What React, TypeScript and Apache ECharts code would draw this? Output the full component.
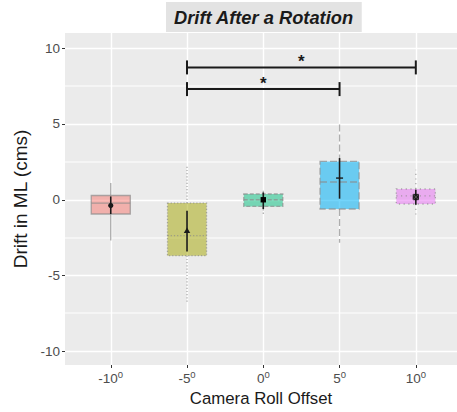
import React, { useEffect, useRef } from 'react';
import * as echarts from 'echarts';

// ---- data ----
const categories = ['-10', '-5', '0', '5', '10'];
const xPositions = [-10, -5, 0, 5, 10];
const boxMin = [-2.68, -6.86, -0.94, -2.84, -1.21];
const boxQ1 = [-0.94, -3.69, -0.44, -0.61, -0.28];
const boxMedian = [-0.22, -2.37, 0.0, 1.17, 0.26];
const boxQ3 = [0.28, -0.22, 0.38, 2.53, 0.71];
const boxMax = [1.1, 2.31, 0.59, 5.17, 1.98];
const meanValues = [-0.38, -2.04, 0.0, 1.43, 0.18];
const errLow = [-0.94, -3.41, -0.61, 0.07, -0.33];
const errHigh = [0.22, -0.73, 0.48, 2.75, 0.66];
const sigFrom = [-5, -5];
const sigTo = [5, 10];
const sigY = [7.3, 8.73];
const sigLabels = ['*', '*'];
const yTicks = [-10, -5, 0, 5, 10];
const yMinorTicks = [-7.5, -2.5, 2.5, 7.5];

// ---- styles ----
const FONT = '"Liberation Sans", Arial, Helvetica, sans-serif';
const fills = [
  'rgba(248,118,109,0.5)',
  'rgba(163,165,0,0.5)',
  'rgba(0,191,125,0.5)',
  'rgba(0,176,246,0.55)',
  'rgba(231,107,243,0.5)',
];
const dashes: (number[] | null)[] = [null, [1.2, 2], [4, 2], [7, 3], [1.2, 3.5]];
const BORDER = 'rgba(140,140,140,0.7)';
const BOX_W = 2.56; // in x units
const INK = '#1a1a1a';

export default function App() {
  const ref = useRef<HTMLDivElement>(null);
  useEffect(() => {
    if (!ref.current) return;
    const chart = echarts.init(ref.current, null, { renderer: 'svg' });

    const boxData = xPositions.map((x, i) => [x, boxMin[i], boxQ1[i], boxMedian[i], boxQ3[i], boxMax[i]]);
    const meanData = xPositions.map((x, i) => [x, errLow[i], errHigh[i], meanValues[i]]);
    const sigData = sigFrom.map((f, i) => [f, sigTo[i], sigY[i]]);
    const minorData = yMinorTicks.map((v) => [xPositions[0], v]);

    const option: any = {
      animation: false,
      title: {
        text: 'Drift After a Rotation',
        left: 166,
        top: 2,
        padding: [5, 8, 5, 8],
        backgroundColor: '#e3e3e3',
        textStyle: {
          fontSize: 18.3,
          fontWeight: 'bold',
          fontStyle: 'italic',
          color: INK,
          fontFamily: FONT,
          lineHeight: 20,
        },
      },
      grid: {
        left: 65,
        right: 0,
        top: 33,
        bottom: 47,
        show: true,
        backgroundColor: '#ebebeb',
        borderWidth: 0,
      },
      xAxis: {
        type: 'value',
        min: -13,
        max: 12.7,
        name: 'Camera Roll Offset',
        nameLocation: 'middle',
        nameGap: 16,
        nameTextStyle: { fontSize: 16.8, color: INK, fontFamily: FONT },
        axisLine: { show: false, onZero: false },
        axisTick: { show: true, length: 3, lineStyle: { color: '#333', width: 1 }, customValues: xPositions },
        axisLabel: {
          customValues: xPositions,
          margin: 4,
          formatter: (v: number) => {
            const idx = xPositions.indexOf(v);
            return `{n|${categories[idx]}}{s|0}`;
          },
          rich: {
            n: { fontSize: 13.5, color: '#4d4d4d', fontFamily: FONT },
            s: { fontSize: 9.5, color: '#4d4d4d', fontFamily: FONT, padding: [0, 0, 8, 0] },
          },
        },
        splitLine: { show: true, lineStyle: { color: '#ffffff', width: 1.4 } },
      },
      yAxis: {
        type: 'value',
        min: -10.9,
        max: 11,
        name: 'Drift in ML (cms)',
        nameLocation: 'middle',
        nameGap: 29,
        nameTextStyle: { fontSize: 19, color: INK, fontFamily: FONT },
        axisLine: { show: false, onZero: false },
        axisTick: { show: true, length: 3, lineStyle: { color: '#333', width: 1 }, customValues: yTicks },
        axisLabel: { customValues: yTicks, margin: 5, fontSize: 13.5, color: '#4d4d4d', fontFamily: FONT },
        splitLine: { show: true, lineStyle: { color: '#ffffff', width: 1.4 } },
      },
      series: [
        {
          type: 'custom',
          name: 'minor-grid',
          data: minorData,
          silent: true,
          clip: false,
          z: 1,
          renderItem: (params: any, api: any) => {
            const y = api.coord([api.value(0), api.value(1)])[1];
            const xl = api.coord([-13, 0])[0];
            const xr = api.coord([12.7, 0])[0];
            return {
              type: 'rect',
              shape: { x: xl, y: Math.round(y) - 0.5, width: xr - xl, height: 1 },
              style: { fill: '#ffffff' },
            };
          },
        },
        {
          type: 'custom',
          name: 'box',
          data: boxData,
          clip: false,
          z: 2,
          renderItem: (params: any, api: any) => {
            const i = params.dataIndex;
            const x = api.value(0);
            const halfW = api.size([BOX_W, 0])[0] / 2;
            const p = (v: number) => api.coord([x, v]);
            const [cx, yMin] = p(api.value(1));
            const yQ1 = p(api.value(2))[1];
            const yMed = p(api.value(3))[1];
            const yQ3 = p(api.value(4))[1];
            const yMax = p(api.value(5))[1];
            const ls = { stroke: BORDER, lineWidth: 1.3, lineDash: dashes[i], fill: null };
            return {
              type: 'group',
              children: [
                { type: 'line', shape: { x1: cx, y1: yQ3, x2: cx, y2: yMax }, style: ls },
                { type: 'line', shape: { x1: cx, y1: yQ1, x2: cx, y2: yMin }, style: ls },
                {
                  type: 'rect',
                  shape: { x: cx - halfW, y: yQ3, width: 2 * halfW, height: yQ1 - yQ3 },
                  style: { fill: fills[i], stroke: BORDER, lineWidth: 1.3, lineDash: dashes[i] },
                },
                { type: 'line', shape: { x1: cx - halfW, y1: yMed, x2: cx + halfW, y2: yMed }, style: ls },
              ],
            };
          },
        },
        {
          type: 'custom',
          name: 'mean',
          data: meanData,
          clip: false,
          z: 3,
          renderItem: (params: any, api: any) => {
            const i = params.dataIndex;
            const x = api.value(0);
            const [cx, yLo] = api.coord([x, api.value(1)]);
            const yHi = api.coord([x, api.value(2)])[1];
            const my = api.coord([x, api.value(3)])[1];
            const children: any[] = [
              { type: 'line', shape: { x1: cx, y1: yLo, x2: cx, y2: yHi }, style: { stroke: INK, lineWidth: 1.6 } },
            ];
            const s = 2.7;
            if (i === 0) {
              children.push({ type: 'circle', shape: { cx, cy: my, r: 2.6 }, style: { fill: INK } });
            } else if (i === 1) {
              children.push({
                type: 'polygon',
                shape: { points: [[cx, my - 3.3], [cx - 3.2, my + 2.3], [cx + 3.2, my + 2.3]] },
                style: { fill: INK },
              });
            } else if (i === 2) {
              children.push({ type: 'rect', shape: { x: cx - s, y: my - s, width: 2 * s, height: 2 * s }, style: { fill: '#000' } });
            } else if (i === 3) {
              children.push({ type: 'line', shape: { x1: cx - 3.5, y1: my, x2: cx + 3.5, y2: my }, style: { stroke: INK, lineWidth: 1.4 } });
            } else {
              children.push({ type: 'rect', shape: { x: cx - s, y: my - s, width: 2 * s, height: 2 * s }, style: { fill: '#1a1a1a', stroke: '#111', lineWidth: 0.8 } });
              children.push({ type: 'line', shape: { x1: cx - s, y1: my - s, x2: cx + s, y2: my + s }, style: { stroke: '#777', lineWidth: 0.6 } });
              children.push({ type: 'line', shape: { x1: cx - s, y1: my + s, x2: cx + s, y2: my - s }, style: { stroke: '#777', lineWidth: 0.6 } });
            }
            return { type: 'group', children };
          },
        },
        {
          type: 'custom',
          name: 'significance',
          data: sigData,
          clip: false,
          z: 4,
          renderItem: (params: any, api: any) => {
            const i = params.dataIndex;
            const [x1, ly] = api.coord([api.value(0), api.value(2)]);
            const x2 = api.coord([api.value(1), api.value(2)])[0];
            const st = { stroke: INK, lineWidth: 2 };
            return {
              type: 'group',
              children: [
                { type: 'line', shape: { x1, y1: ly, x2, y2: ly }, style: st },
                { type: 'line', shape: { x1, y1: ly - 7, x2: x1, y2: ly + 7 }, style: st },
                { type: 'line', shape: { x1: x2, y1: ly - 7, x2, y2: ly + 7 }, style: st },
                {
                  type: 'text',
                  x: (x1 + x2) / 2,
                  y: ly - 6,
                  style: {
                    text: sigLabels[i],
                    fontSize: 17,
                    fontWeight: 'bold',
                    fontFamily: FONT,
                    fill: INK,
                    align: 'center',
                    verticalAlign: 'middle',
                  },
                },
              ],
            };
          },
        },
      ],
    };

    chart.setOption(option);
    return () => chart.dispose();
  }, []);

  return <div ref={ref} style={{ position: 'absolute', left: 0, top: 0, width: 457, height: 412 }} />;
}
